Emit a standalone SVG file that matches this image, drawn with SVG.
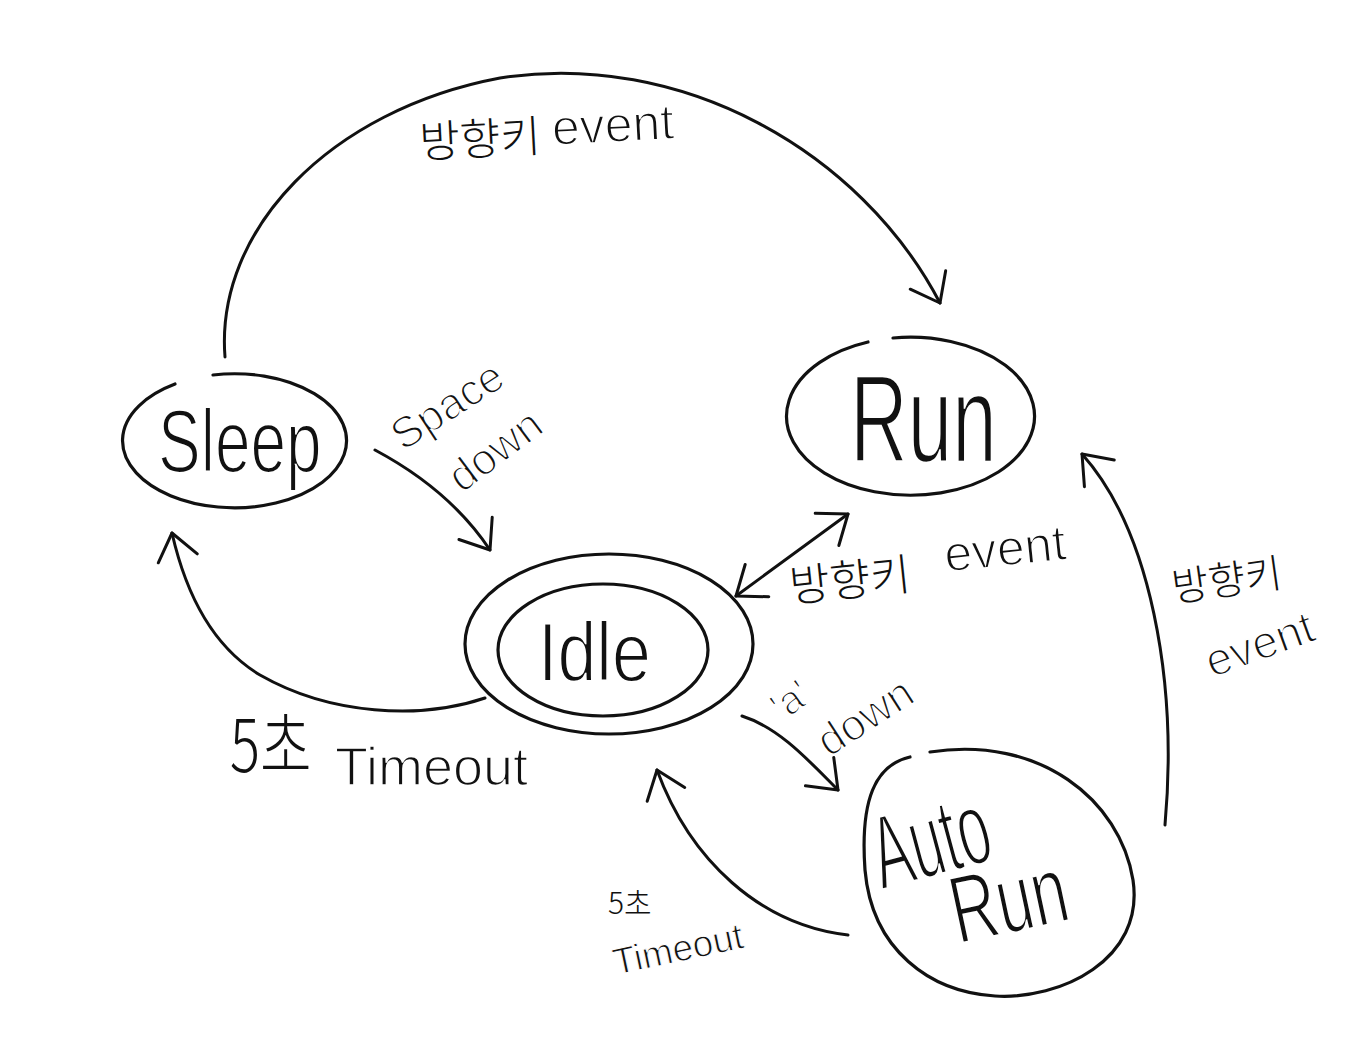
<svg xmlns="http://www.w3.org/2000/svg" width="1362" height="1064" viewBox="0 0 1362 1064">
<defs>
<style>
.n{fill:none;stroke:#111;stroke-width:3.2;stroke-linecap:round}
.c{fill:none;stroke:#111;stroke-width:3;stroke-linecap:round}
.t{font-family:"Liberation Sans","Noto Sans CJK KR",sans-serif;fill:#111}
.b{stroke:#fff;stroke-width:1.6}
.s{stroke:#fff;stroke-width:1}
.k{font-family:"Noto Sans CJK KR","Liberation Sans",sans-serif;fill:#111;font-weight:300}
</style>
<marker id="ah" viewBox="-30 -25 36 50" refX="0" refY="0" markerWidth="36" markerHeight="50" markerUnits="userSpaceOnUse" orient="auto-start-reverse">
<path d="M -26,-20 L 0,0 L -26,20" fill="none" stroke="#111" stroke-width="3" stroke-linecap="round" stroke-linejoin="round"/>
</marker>
</defs>
<rect width="1362" height="1064" fill="#fff"/>

<g id="connectors">
<path class="c" d="M 225,357 C 215,230 330,110 500,78 C 680,50 860,150 940,303" marker-end="url(#ah)"/>
<path class="c" d="M 375,450 Q 450,490 490,550" marker-end="url(#ah)"/>
<path class="c" d="M 485,698 C 420,720 330,715 260,675 C 210,645 185,590 172,533" marker-end="url(#ah)"/>
<path class="c" d="M 736,596 L 848,514" marker-start="url(#ah)" marker-end="url(#ah)"/>
<path class="c" d="M 742,716 C 780,728 810,762 838,790" marker-end="url(#ah)"/>
<path class="c" d="M 848,935 C 760,925 690,860 657,770" marker-end="url(#ah)"/>
<path class="c" d="M 1165,825 C 1178,680 1150,530 1082,454" marker-end="url(#ah)"/>
</g>

<g id="labels">
<g transform="rotate(-3 420 155)">
<text class="k" x="420" y="158" font-size="44">방향키</text>
<text class="t b" x="553" y="152" font-size="50">event</text>
</g>
<g transform="rotate(-6 793 600)">
<text class="k" x="791" y="602" font-size="44">방향키</text>
<text class="t b" x="948" y="588" font-size="50">event</text>
</g>
<text class="k" font-size="40" transform="translate(1174,602) rotate(-8)">방향키</text>
<text class="t b" font-size="46" transform="translate(1212,678) rotate(-20)">event</text>
<text class="t b" font-size="44" transform="translate(403,452) rotate(-33)">Space</text>
<text class="t b" font-size="44" transform="translate(462,494) rotate(-37)">down</text>
<text class="t b" font-size="40" transform="translate(783,722) rotate(-36)">'a'</text>
<text class="t b" font-size="44" transform="translate(829,758) rotate(-33)">down</text>
<text class="k" font-size="56" transform="translate(230,772) scale(1,1.3)">5초</text>
<text class="t b" font-size="54" transform="translate(335,785)">Timeout</text>
<text class="k" font-size="30" x="608" y="914">5초</text>
<text class="t s" font-size="37" transform="translate(616,975) rotate(-12)">Timeout</text>
</g>

<g id="node-sleep">
<path class="n" d="M 213,375 A 112 67 0 1 1 175,384"/>
<text class="t b" font-size="64" transform="translate(158,472) scale(1,1.4)">Sleep</text>
</g>

<g id="node-run">
<path class="n" d="M 893,338 A 124 79 0 1 1 868,342"/>
<text class="t b" font-size="80" transform="translate(850,462) scale(1,1.55)">Run</text>
</g>

<g id="node-idle">
<ellipse class="n" cx="609" cy="644" rx="144" ry="90"/>
<ellipse class="n" cx="603" cy="650" rx="105" ry="66"/>
<text class="t b" font-size="70" transform="translate(538,681) scale(1,1.2)">Idle</text>
</g>

<g id="node-autorun">
<path class="n" d="M 930,752 C 1040,735 1120,800 1133,880 C 1145,960 1060,1000 995,996 C 930,992 872,950 865,870 C 860,800 875,765 910,757"/>
<text class="t b" font-size="58" transform="translate(882,890) rotate(-15) scale(1,1.8)">Auto</text>
<text class="t b" font-size="64" transform="translate(958,944) rotate(-12) scale(1,1.5)">Run</text>
</g>
</svg>
